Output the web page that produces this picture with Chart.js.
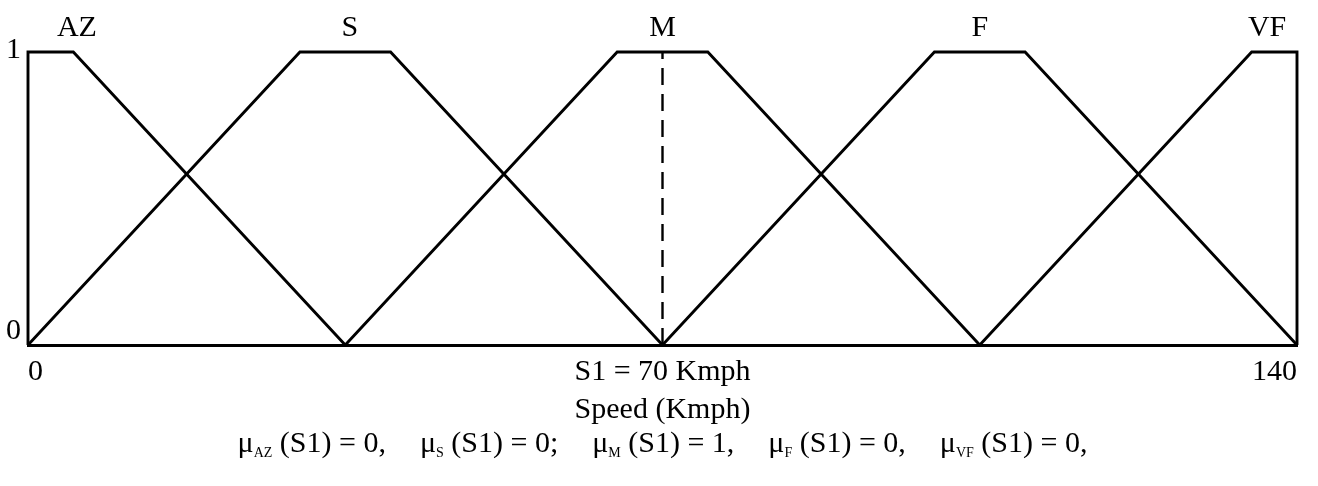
<!DOCTYPE html>
<html>
<head>
<meta charset="utf-8">
<script src="https://cdn.jsdelivr.net/npm/chart.js@4.4.1/dist/chart.umd.min.js"></script>
<style>
    body { margin: 0; background: #fff; }
    #wrap { width: 1318px; height: 486px; }
</style>
</head>
<body>
<div id="wrap"><canvas id="chart"></canvas></div>
<script>
// trapezoid corners (speed in Kmph, membership 0..1)
const azX = [0, 0, 5, 35];
const azY = [0, 1, 1, 0];
const sX = [0, 30, 40, 70];
const sY = [0, 1, 1, 0];
const mX = [35, 65, 75, 105];
const mY = [0, 1, 1, 0];
const fX = [70, 100, 110, 140];
const fY = [0, 1, 1, 0];
const vfX = [105, 135, 140, 140];
const vfY = [0, 1, 1, 0];

// the input speed S1 (dashed line)
const s1X = [70, 70];
const s1Y = [0, 1];

const setNames = ['AZ', 'S', 'M', 'F', 'VF'];
const setLabelX = [5.4, 35.5, 70, 105, 136.7];
const membershipAtS1 = ['0,', '0;', '1,', '0,', '0,'];

const xTickValues = [0, 70, 140];
const xTickLabels = ['0', 'S1 = 70 Kmph', '140'];
const yTickValues = [0, 1];
const yTickLabels = ['0', '1'];

const FONT = '"Liberation Serif", "Times New Roman", serif';

function toPoints(xs, ys) {
    return xs.map((x, i) => ({ x: x, y: ys[i] }));
}

function trapezoid(xs, ys) {
    return {
        data: toPoints(xs, ys),
        borderColor: '#000',
        borderWidth: 2.9,
        pointRadius: 0,
        tension: 0,
        fill: false,
        clip: 6
    };
}

// set names above, y labels 0/1 and the membership line under the axis
const annotations = {
    id: 'annotations',
    afterDraw(chart) {
        const { ctx, chartArea } = chart;
        const xs = chart.scales.x;
        const ys = chart.scales.y;
        ctx.save();
        ctx.fillStyle = '#000';
        ctx.font = '30px ' + FONT;

        ctx.textAlign = 'center';
        ctx.textBaseline = 'alphabetic';
        setNames.forEach((name, i) => {
            ctx.fillText(name, xs.getPixelForValue(setLabelX[i]), 36);
        });

        ctx.textAlign = 'right';
        yTickValues.forEach((v, i) => {
            const py = ys.getPixelForValue(v);
            if (v === 1) {
                ctx.textBaseline = 'middle';
                ctx.fillText(yTickLabels[i], chartArea.left - 7, py - 2);
            } else {
                ctx.textBaseline = 'alphabetic';
                ctx.fillText(yTickLabels[i], chartArea.left - 7, py - 6);
            }
        });

        // μ_X (S1) = v,   ...
        const big = '30px ' + FONT;
        const small = '14px ' + FONT;
        const gap = 34;
        const parts = setNames.map((name, i) => ({ sub: name, rest: ' (S1) = ' + membershipAtS1[i] }));
        const widthOf = p => {
            ctx.font = big;
            let w = ctx.measureText('μ').width + ctx.measureText(p.rest).width;
            ctx.font = small;
            return w + ctx.measureText(p.sub).width;
        };
        const total = parts.reduce((s, p) => s + widthOf(p), 0) + gap * (parts.length - 1);
        let cx = (chartArea.left + chartArea.right) / 2 - total / 2;
        const base = 452;
        ctx.textAlign = 'left';
        ctx.textBaseline = 'alphabetic';
        parts.forEach(p => {
            ctx.font = big;
            ctx.fillText('μ', cx, base);
            cx += ctx.measureText('μ').width;
            ctx.font = small;
            ctx.fillText(p.sub, cx, base + 5);
            cx += ctx.measureText(p.sub).width;
            ctx.font = big;
            ctx.fillText(p.rest, cx, base);
            cx += ctx.measureText(p.rest).width + gap;
        });
        ctx.restore();
    }
};

const ctx = document.getElementById('chart');

new Chart(ctx, {
    type: 'line',
    data: {
        datasets: [
            trapezoid(azX, azY),
            trapezoid(sX, sY),
            trapezoid(mX, mY),
            trapezoid(fX, fY),
            trapezoid(vfX, vfY),
            {
                data: toPoints(s1X, s1Y),
                borderColor: '#000',
                borderWidth: 2.4,
                borderDash: [17, 9],
                pointRadius: 0,
                fill: false,
                clip: 6
            }
        ]
    },
    options: {
        responsive: true,
        maintainAspectRatio: false,
        animation: false,
        layout: {
            padding: { top: 52, left: 28, right: 21, bottom: 58 }
        },
        plugins: {
            legend: { display: false },
            tooltip: { enabled: false }
        },
        scales: {
            x: {
                type: 'linear',
                min: 0,
                max: 140,
                afterBuildTicks: (axis) => {
                    axis.ticks = xTickValues.map(v => ({ value: v }));
                },
                ticks: {
                    align: 'inner',
                    padding: 9,
                    color: '#000',
                    font: { family: FONT, size: 30 },
                    maxRotation: 0,
                    callback: (value) => xTickLabels[xTickValues.indexOf(value)]
                },
                grid: { display: false, drawTicks: false },
                border: { display: true, color: '#000', width: 2.9 },
                title: {
                    display: true,
                    text: 'Speed (Kmph)',
                    color: '#000',
                    font: { family: FONT, size: 30 },
                    padding: { top: -7, bottom: 0 }
                }
            },
            y: {
                display: false,
                min: 0,
                max: 1
            }
        }
    },
    plugins: [annotations]
});
</script>
</body>
</html>
